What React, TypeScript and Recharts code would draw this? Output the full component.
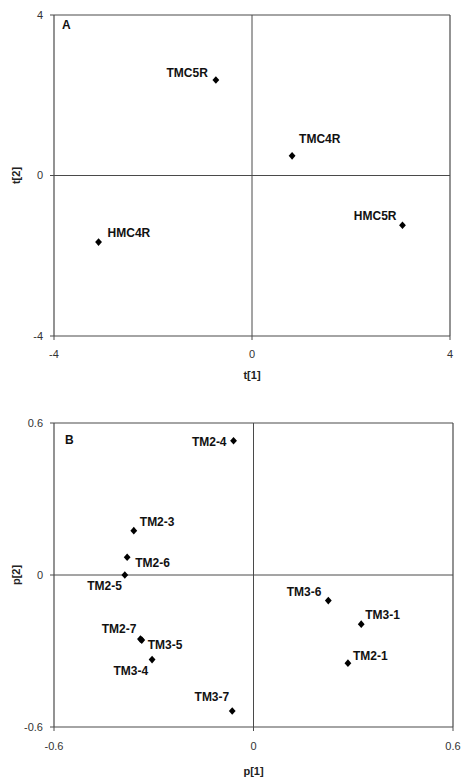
import React from 'react';
import { ScatterChart, Scatter, XAxis, YAxis, ReferenceLine, Label } from 'recharts';

// Panel A: scores
const namesA = ['TMC5R', 'TMC4R', 'HMC4R', 'HMC5R'];
const t1 = [-0.73, 0.81, -3.1, 3.04];
const t2 = [2.38, 0.49, -1.66, -1.24];
const ticksA = [-4, 0, 4];

// Panel B: loadings
const namesB = ['TM2-4', 'TM2-3', 'TM2-6', 'TM2-5', 'TM2-7', 'TM3-5', 'TM3-4', 'TM3-7', 'TM3-6', 'TM3-1', 'TM2-1'];
const p1 = [-0.06, -0.36, -0.38, -0.387, -0.34, -0.336, -0.305, -0.064, 0.225, 0.324, 0.284];
const p2 = [0.53, 0.175, 0.07, 0.0, -0.253, -0.257, -0.334, -0.537, -0.101, -0.194, -0.348];
const ticksB = [-0.6, 0, 0.6];

// label placement (style only)
const labelStyle: Record<string, { dx: number; dy: number; anchor: 'start' | 'end' }> = {
  TMC5R: { dx: -8, dy: -7, anchor: 'end' },
  TMC4R: { dx: 7, dy: -17, anchor: 'start' },
  HMC4R: { dx: 9, dy: -9, anchor: 'start' },
  HMC5R: { dx: -6, dy: -10, anchor: 'end' },
  'TM2-4': { dx: -7, dy: 1, anchor: 'end' },
  'TM2-3': { dx: 6, dy: -9, anchor: 'start' },
  'TM2-6': { dx: 8, dy: 5, anchor: 'start' },
  'TM2-5': { dx: -3, dy: 11, anchor: 'end' },
  'TM2-7': { dx: -4, dy: -10, anchor: 'end' },
  'TM3-5': { dx: 6, dy: 5, anchor: 'start' },
  'TM3-4': { dx: -4, dy: 11, anchor: 'end' },
  'TM3-7': { dx: -3, dy: -14, anchor: 'end' },
  'TM3-6': { dx: -7, dy: -9, anchor: 'end' },
  'TM3-1': { dx: 4, dy: -9, anchor: 'start' },
  'TM2-1': { dx: 5, dy: -7, anchor: 'start' },
};

const dataA = namesA.map((n, i) => ({ name: n, x: t1[i], y: t2[i] }));
const dataB = namesB.map((n, i) => ({ name: n, x: p1[i], y: p2[i] }));

const FONT = '"Liberation Sans", Arial, sans-serif';
const LINE = '#4a4a4a';

const Point = (props: any) => {
  const { cx, cy, payload } = props;
  if (cx == null || cy == null) return null;
  const s = labelStyle[payload.name] || { dx: 6, dy: -8, anchor: 'start' };
  return (
    <g>
      <path d={`M${cx},${cy - 3.8}L${cx + 3.4},${cy}L${cx},${cy + 3.8}L${cx - 3.4},${cy}Z`} fill="#000" />
      <text
        x={cx + s.dx}
        y={cy + s.dy + 4.3}
        textAnchor={s.anchor}
        fontFamily={FONT}
        fontWeight="bold"
        fontSize={12}
        fill="#111"
      >
        {payload.name}
      </text>
    </g>
  );
};

const tickStyle = { fontSize: 11, fill: '#333', fontFamily: FONT };

const XTitle = (text: string, bottomOffset: number) => (props: any) => {
  const vb = props.viewBox || {};
  return (
    <text
      x={vb.x + vb.width / 2}
      y={vb.y + vb.height - bottomOffset}
      textAnchor="middle"
      fontFamily={FONT}
      fontWeight="bold"
      fontSize={11}
      fill="#222"
    >
      {text}
    </text>
  );
};

const YTitle = (text: string, x: number) => (props: any) => {
  const vb = props.viewBox || {};
  const cy = vb.y + vb.height / 2;
  return (
    <text
      x={x}
      y={cy}
      transform={`rotate(-90, ${x}, ${cy})`}
      textAnchor="middle"
      fontFamily={FONT}
      fontWeight="bold"
      fontSize={11}
      fill="#222"
    >
      {text}
    </text>
  );
};

function Panel({
  data,
  ticks,
  xName,
  yName,
  height,
  margin,
  xAxisHeight,
  xTickMargin,
  xTitleOffset,
}: any) {
  const lo = ticks[0];
  const hi = ticks[ticks.length - 1];
  return (
    <ScatterChart width={462} height={height} margin={margin}>
      <XAxis
        type="number"
        dataKey="x"
        domain={[lo, hi]}
        ticks={ticks}
        allowDataOverflow
        height={xAxisHeight}
        tickSize={4}
        tickMargin={xTickMargin}
        tick={tickStyle}
        axisLine={{ stroke: LINE, strokeWidth: 1.2 }}
        tickLine={{ stroke: LINE }}
        interval={0}
      >
        <Label content={XTitle(xName, xTitleOffset)} />
      </XAxis>
      <YAxis
        type="number"
        dataKey="y"
        domain={[lo, hi]}
        ticks={ticks}
        allowDataOverflow
        width={54}
        tickSize={4}
        tickMargin={7}
        tick={tickStyle}
        axisLine={{ stroke: LINE, strokeWidth: 1.2 }}
        tickLine={{ stroke: LINE }}
        interval={0}
      >
        <Label content={YTitle(yName, 20)} />
      </YAxis>
      <ReferenceLine x={0} stroke={LINE} strokeWidth={1} />
      <ReferenceLine y={0} stroke={LINE} strokeWidth={1} />
      <ReferenceLine x={hi} stroke={LINE} strokeWidth={1.2} />
      <ReferenceLine y={hi} stroke={LINE} strokeWidth={1.2} />
      <Scatter data={data} isAnimationActive={false} shape={(p: any) => <Point {...p} />} />
    </ScatterChart>
  );
}

export default function App() {
  return (
    <div style={{ position: 'absolute', left: 0, top: 0, width: 462, height: 778, background: '#fff' }}>
      <div style={{ position: 'absolute', left: 0, top: 0 }}>
        <Panel
          data={dataA}
          ticks={ticksA}
          xName="t[1]"
          yName="t[2]"
          height={390}
          margin={{ top: 15, right: 12, bottom: 0, left: 0 }}
          xAxisHeight={54}
          xTickMargin={10}
          xTitleOffset={11}
        />
      </div>
      <div style={{ position: 'absolute', left: 0, top: 390 }}>
        <Panel
          data={dataB}
          ticks={ticksB}
          xName="p[1]"
          yName="p[2]"
          height={388}
          margin={{ top: 33, right: 9, bottom: 0, left: 0 }}
          xAxisHeight={51}
          xTickMargin={11}
          xTitleOffset={3}
        />
      </div>
      <div style={{ position: 'absolute', left: 62, top: 18, font: `bold 12px ${FONT}`, color: '#111' }}>A</div>
      <div style={{ position: 'absolute', left: 65, top: 433, font: `bold 12px ${FONT}`, color: '#111' }}>B</div>
    </div>
  );
}
